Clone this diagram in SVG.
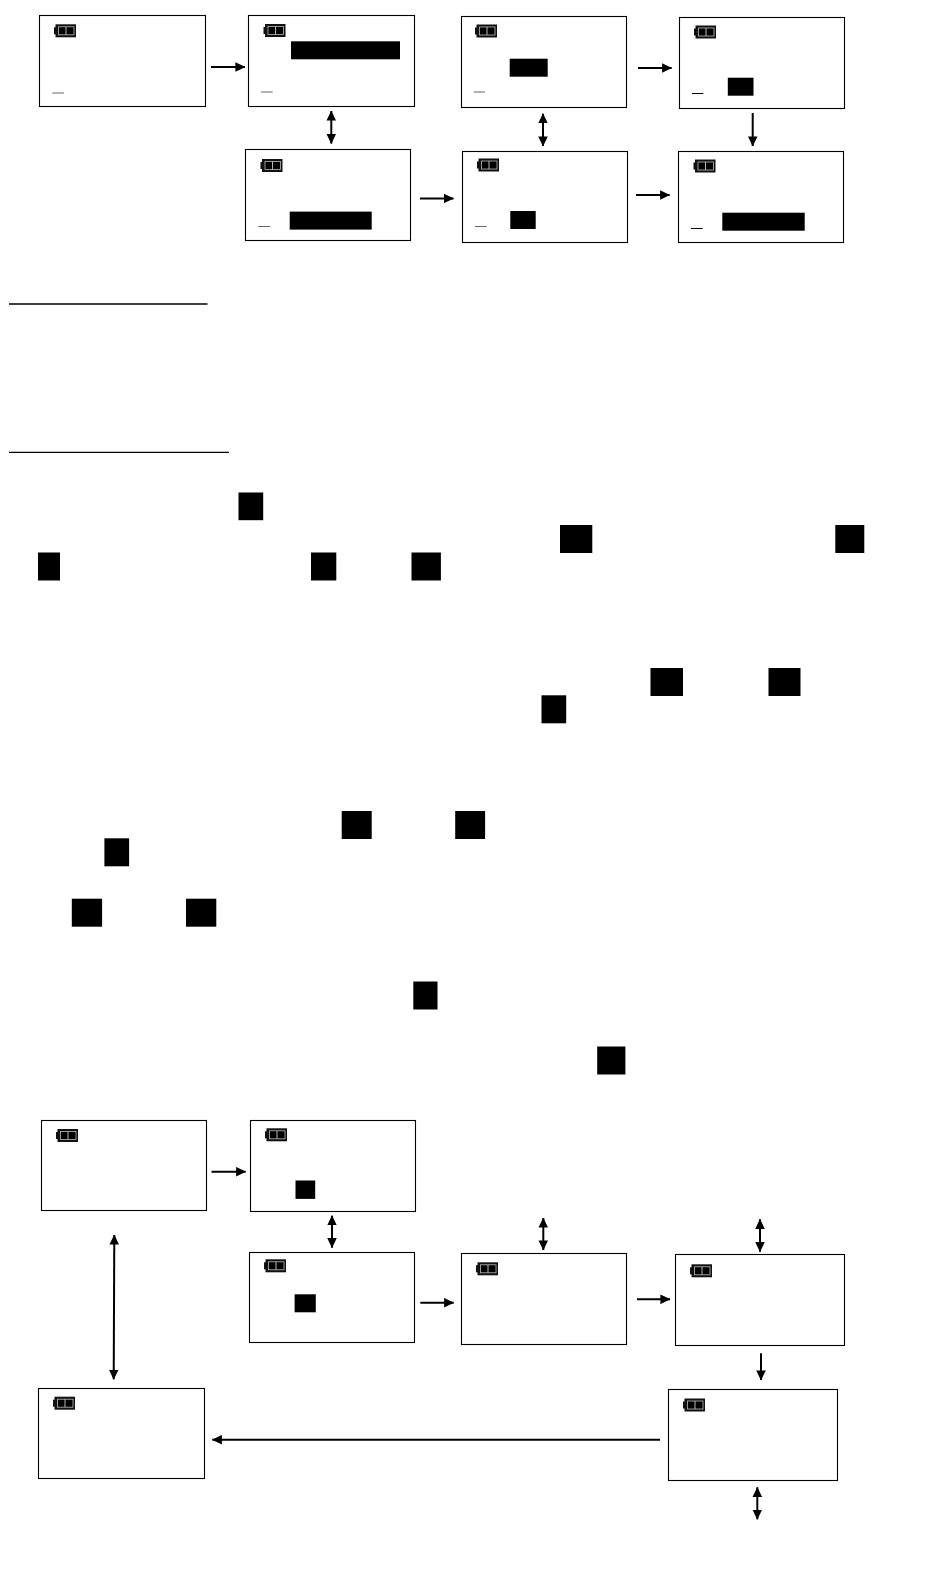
<svg xmlns="http://www.w3.org/2000/svg" width="950" height="1590" viewBox="0 0 950 1590">
<style>
.box{fill:#fff;stroke:#000;stroke-width:1.1}
.blk{fill:#000}
.dash{stroke:#666;stroke-width:1}
.ln{stroke:#000;stroke-width:2;fill:none}
.one{marker-end:url(#h)}
.two{marker-start:url(#t);marker-end:url(#h)}
</style>
<defs>
<marker id="h" markerUnits="userSpaceOnUse" markerWidth="10" markerHeight="10" refX="9.6" refY="5" orient="auto"><path d="M0 0.2L10 5L0 9.8z" fill="#000"/></marker>
<marker id="t" markerUnits="userSpaceOnUse" markerWidth="10" markerHeight="10" refX="0.4" refY="5" orient="auto"><path d="M10 0.2L0 5L10 9.8z" fill="#000"/></marker>
<g id="bat">
<rect x="0" y="3" width="2" height="7" fill="#111"/>
<rect x="1.5" y="0" width="20.5" height="13" fill="#111"/>
<rect x="4.5" y="2.5" width="15.5" height="8" fill="#000" stroke="#bbb" stroke-width="0.8"/>
<line x1="12" y1="2.5" x2="12" y2="10.5" stroke="#ccc" stroke-width="0.9"/>
</g>
</defs>
<rect width="950" height="1590" fill="#fff"/>
<g id="connectors">
<path class="ln one" d="M211 67H245"/>
<path class="ln two" d="M331.3 111V143.5"/>
<path class="ln one" d="M420 198.4H453.5"/>
<path class="ln two" d="M543 113.7V146"/>
<path class="ln one" d="M638 68H671.7"/>
<path class="ln one" d="M752.7 113V146"/>
<path class="ln one" d="M636 195H669.7"/>
<path class="ln one" d="M211.5 1171.7H245.7"/>
<path class="ln two" d="M332 1215.7V1247.7"/>
<path class="ln two" d="M114.3 1235L113.7 1379.3"/>
<path class="ln one" d="M420.3 1302.7H453.7"/>
<path class="ln one" d="M637 1299.3H670"/>
<path class="ln two" d="M543.3 1218V1250"/>
<path class="ln two" d="M760 1219.3V1251.7"/>
<path class="ln one" d="M761 1353.3V1380"/>
<path class="ln one" d="M660 1439.7H212.3"/>
<path class="ln two" d="M757.3 1487.3V1519.3"/>
</g>
<g id="n1"><rect class="box" x="39.5" y="15.5" width="166" height="91"/><use href="#bat" x="54" y="24.3"/><line class="dash" x1="52.3" y1="93" x2="64" y2="93"/></g>
<g id="n2"><rect class="box" x="248.5" y="15.5" width="166" height="91"/><use href="#bat" x="263.5" y="24"/><rect class="blk" x="291" y="41.3" width="109" height="18"/><line class="dash" x1="261" y1="92" x2="272.7" y2="92"/></g>
<g id="n3"><rect class="box" x="245.5" y="149.5" width="165" height="91"/><use href="#bat" x="260.5" y="159"/><rect class="blk" x="289.7" y="211.6" width="82" height="18"/><line class="dash" x1="258.3" y1="226.5" x2="270" y2="226.5"/></g>
<g id="n4"><rect class="box" x="461.5" y="16.5" width="165" height="91"/><use href="#bat" x="475" y="24.5"/><rect class="blk" x="509.7" y="58.7" width="38" height="18"/><line class="dash" x1="473.7" y1="92" x2="485" y2="92"/></g>
<g id="n5"><rect class="box" x="679.5" y="17.5" width="165" height="91"/><use href="#bat" x="694" y="25.5"/><rect class="blk" x="727.8" y="77.7" width="25.7" height="18"/><line x1="692" y1="93.5" x2="703.3" y2="93.5" stroke="#000"/></g>
<g id="n6"><rect class="box" x="462.5" y="151.5" width="165" height="91"/><use href="#bat" x="477" y="158.5"/><rect class="blk" x="510.3" y="211" width="25.4" height="18"/><line class="dash" x1="475" y1="226.5" x2="486.7" y2="226.5"/></g>
<g id="n7"><rect class="box" x="678.5" y="151.5" width="165" height="91"/><use href="#bat" x="693.5" y="159.5"/><rect class="blk" x="722.3" y="212.7" width="82.4" height="18"/><line x1="691" y1="228.5" x2="702.7" y2="228.5" stroke="#000"/></g>
<g id="rules">
<line x1="9" y1="304" x2="207.5" y2="304" stroke="#000" stroke-width="1.4"/>
<line x1="9" y1="452.4" x2="229" y2="452.4" stroke="#000" stroke-width="1.4"/>
</g>
<g id="blocks">
<rect class="blk" x="238.5" y="492.5" width="24.7" height="27.7"/>
<rect class="blk" x="560" y="525" width="32.3" height="28"/>
<rect class="blk" x="835.3" y="525" width="29" height="28"/>
<rect class="blk" x="38" y="552.5" width="22" height="28"/>
<rect class="blk" x="311" y="552.5" width="25.3" height="28"/>
<rect class="blk" x="411.5" y="552.5" width="29.4" height="28"/>
<rect class="blk" x="650.5" y="668" width="32.5" height="28"/>
<rect class="blk" x="768.5" y="668" width="32" height="28"/>
<rect class="blk" x="541.5" y="695.3" width="24.7" height="28"/>
<rect class="blk" x="341.7" y="811" width="30" height="28"/>
<rect class="blk" x="455.2" y="811" width="29.9" height="28"/>
<rect class="blk" x="104.4" y="838.3" width="24.7" height="28"/>
<rect class="blk" x="71.8" y="898.7" width="30.3" height="28"/>
<rect class="blk" x="186" y="898.7" width="30.3" height="28"/>
<rect class="blk" x="413.3" y="981.5" width="24.2" height="28"/>
<rect class="blk" x="597.2" y="1046.5" width="28.2" height="28"/>
</g>
<g id="n8"><rect class="box" x="41.5" y="1120.5" width="165" height="90"/><use href="#bat" x="56" y="1129"/></g>
<g id="n9"><rect class="box" x="250.5" y="1120.5" width="165" height="91"/><use href="#bat" x="265" y="1128.3"/><rect class="blk" x="295.5" y="1180.5" width="19.7" height="18.4"/></g>
<g id="n10"><rect class="box" x="249.5" y="1252.5" width="165" height="90"/><use href="#bat" x="264" y="1259.3"/><rect class="blk" x="294.6" y="1294.3" width="21.2" height="18"/></g>
<g id="n11"><rect class="box" x="461.5" y="1253.5" width="165" height="91"/><use href="#bat" x="476" y="1262.3"/></g>
<g id="n12"><rect class="box" x="675.5" y="1254.5" width="169" height="91"/><use href="#bat" x="690" y="1264.3"/></g>
<g id="n13"><rect class="box" x="38.5" y="1388.5" width="166" height="90"/><use href="#bat" x="53" y="1396.7"/></g>
<g id="n14"><rect class="box" x="668.5" y="1389.5" width="169" height="91"/><use href="#bat" x="683" y="1398.5"/></g>
</svg>
